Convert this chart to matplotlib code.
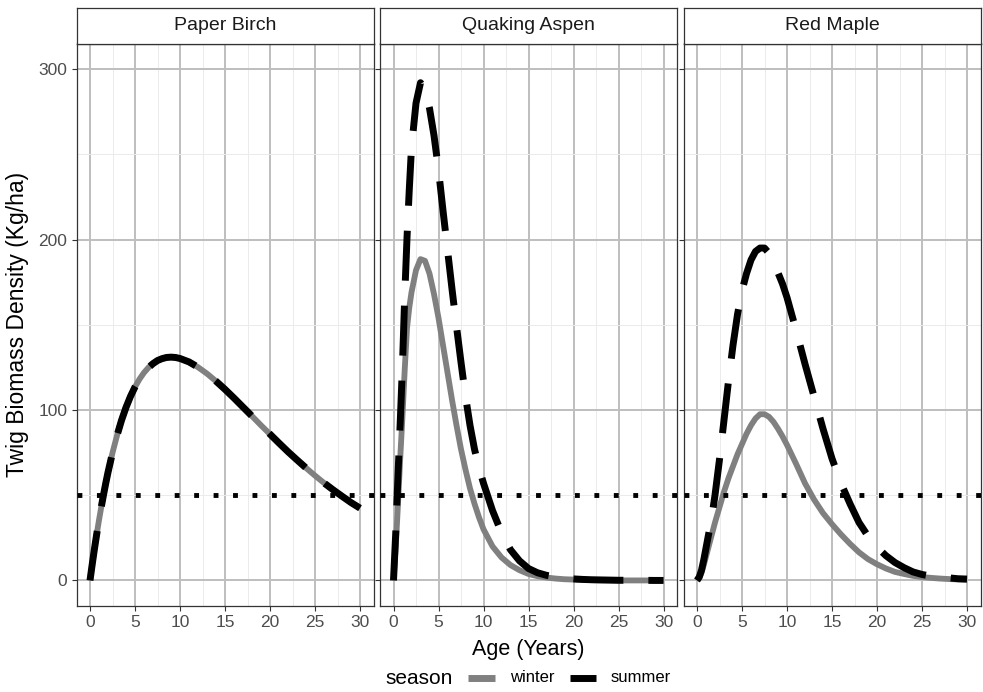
import matplotlib
matplotlib.use("Agg")
import matplotlib.pyplot as plt
from matplotlib.lines import Line2D

plt.rcParams['font.family'] = ['Liberation Sans', 'DejaVu Sans']

# values (Kg/ha by stand age)
ages = [0, 0.25, 0.5, 0.75, 1, 1.25, 1.5, 1.75, 2, 2.5, 3, 3.5, 4, 4.5, 5, 5.5,
        6, 6.5, 7, 7.5, 8, 8.5, 9, 9.5, 10, 11, 12, 13, 14, 15, 16, 17, 18, 19,
        20, 21, 22, 23, 24, 25, 26, 27, 28, 29, 30]

birch_winter = [0, 9.6, 18.7, 27.3, 35.4, 43.0, 50.2, 57.0, 63.4, 74.9, 85.0, 93.9,
                101.5, 108.0, 113.5, 118.1, 121.9, 124.9, 127.2, 129.0, 130.1, 130.8,
                131.0, 130.8, 130.2, 128.2, 125.1, 121.3, 116.9, 112.1, 107.0, 101.7,
                96.4, 91.0, 85.8, 80.6, 75.5, 70.7, 66.0, 61.5, 57.2, 53.2, 49.4, 45.7, 42.4]
birch_summer = list(birch_winter)

aspen_winter = [0, 20, 45, 72, 97, 124, 148, 160, 169, 182, 188.5, 187.5, 180, 168, 154,
                138, 122, 106, 91, 77, 65, 54, 45, 37, 30, 20, 13.5, 9, 6, 3.8, 2.5, 1.7,
                1.1, 0.7, 0.5, 0.3, 0.2, 0.1, 0.1, 0, 0, 0, 0, 0, 0]
aspen_summer = [0, 28, 62, 93, 127, 167, 201, 229, 254, 280, 292, 288, 277, 261, 241,
                217, 194, 171, 149, 128, 108, 91, 77, 66, 57, 41, 28, 18, 11.5, 7, 4.5, 3,
                2, 1.3, 0.9, 0.6, 0.4, 0.3, 0.2, 0.1, 0.1, 0.1, 0.05, 0, 0]

maple_winter = [0, 1.5, 4.5, 9, 14, 19, 24, 29, 34, 43, 52, 60, 67, 74, 80, 86, 91, 95,
                97.5, 97.5, 96, 93, 89, 84.5, 79.5, 68.5, 57, 47.5, 39.5, 33, 27, 21.5,
                16.5, 12.5, 9.5, 7, 5, 3.8, 2.7, 2, 1.5, 1.1, 0.8, 0.6, 0.4]
maple_summer = [0, 2, 6, 12, 19, 26, 33, 41, 50, 71, 94, 117, 138, 156, 170, 180, 188,
                193, 195, 195, 192, 187, 180.5, 174, 166, 147, 127, 108, 89, 71.5, 57, 45,
                34, 26, 19.5, 14.5, 10.5, 7.5, 5, 3.5, 2.5, 2, 1.5, 1, 0.8]

species = ['Paper Birch', 'Quaking Aspen', 'Red Maple']
winter = [birch_winter, aspen_winter, maple_winter]
summer = [birch_summer, aspen_summer, maple_summer]
threshold = 50

W, H = 983, 692
fig = plt.figure(figsize=(W / 100, H / 100), dpi=100)


def box(l, t, r, b):
    return [l / W, 1 - b / H, (r - l) / W, (b - t) / H]


lefts = [76.5, 380, 683.5]
pw = 297
border = '#333333'

for i, name in enumerate(species):
    l = lefts[i]
    ax = fig.add_axes(box(l, 43.5, l + pw, 606))
    ax.set_axisbelow(True)
    ax.set_xlim(-1.5, 31.5)
    ax.set_ylim(-15, 315)
    ax.set_xticks([0, 5, 10, 15, 20, 25, 30])
    ax.set_xticks([2.5, 7.5, 12.5, 17.5, 22.5, 27.5], minor=True)
    ax.set_yticks([0, 100, 200, 300])
    ax.set_yticks([50, 150, 250], minor=True)
    ax.grid(which='major', color='#BEBEBE', lw=1.4)
    ax.grid(which='minor', color='#EBEBEB', lw=0.7)
    ax.tick_params(which='major', length=3.6, width=0.8, color=border,
                   labelsize=12.5, labelcolor='#4D4D4D', pad=3)
    ax.tick_params(which='minor', length=0)
    if i > 0:
        ax.tick_params(axis='y', labelleft=False)
    for sp in ax.spines.values():
        sp.set_color(border)
        sp.set_linewidth(0.9)

    ax.plot(ages, winter[i], color='#808080', lw=4.2, solid_capstyle='butt', zorder=3)
    ax.plot(ages, summer[i], color='black', lw=5, ls=(0, (7.2, 3.6)), zorder=4)
    ax.axhline(threshold, color='black', lw=3.5, ls=(0, (1, 3)), zorder=5)

    st = fig.add_axes(box(l, 7.5, l + pw, 43.5))
    st.set_xticks([])
    st.set_yticks([])
    st.set_facecolor('white')
    for sp in st.spines.values():
        sp.set_color(border)
        sp.set_linewidth(0.9)
    st.text(0.5, 0.5, name, ha='center', va='center', fontsize=14,
            color='#1A1A1A', transform=st.transAxes)

fig.text(18 / W, 1 - 324 / H, 'Twig Biomass Density (Kg/ha)', rotation=90,
         ha='center', va='center', fontsize=16.5)
fig.text(528.5 / W, 1 - 650 / H, 'Age (Years)', ha='center', va='center', fontsize=15.5)

# legend drawn by hand, ggplot style (title on the left)
ly = 1 - 678 / H
fig.text(385 / W, ly, 'season', ha='left', va='center', fontsize=15)
fig.add_artist(Line2D([468 / W, 495 / W], [ly, ly], color='#808080', lw=5,
                      solid_capstyle='butt'))
fig.text(510 / W, ly, 'winter', ha='left', va='center', fontsize=12)
fig.add_artist(Line2D([570 / W, 596 / W], [ly, ly], color='black', lw=5,
                      solid_capstyle='butt'))
fig.text(610.5 / W, ly, 'summer', ha='left', va='center', fontsize=12)

fig.savefig('out.png', dpi=100)
